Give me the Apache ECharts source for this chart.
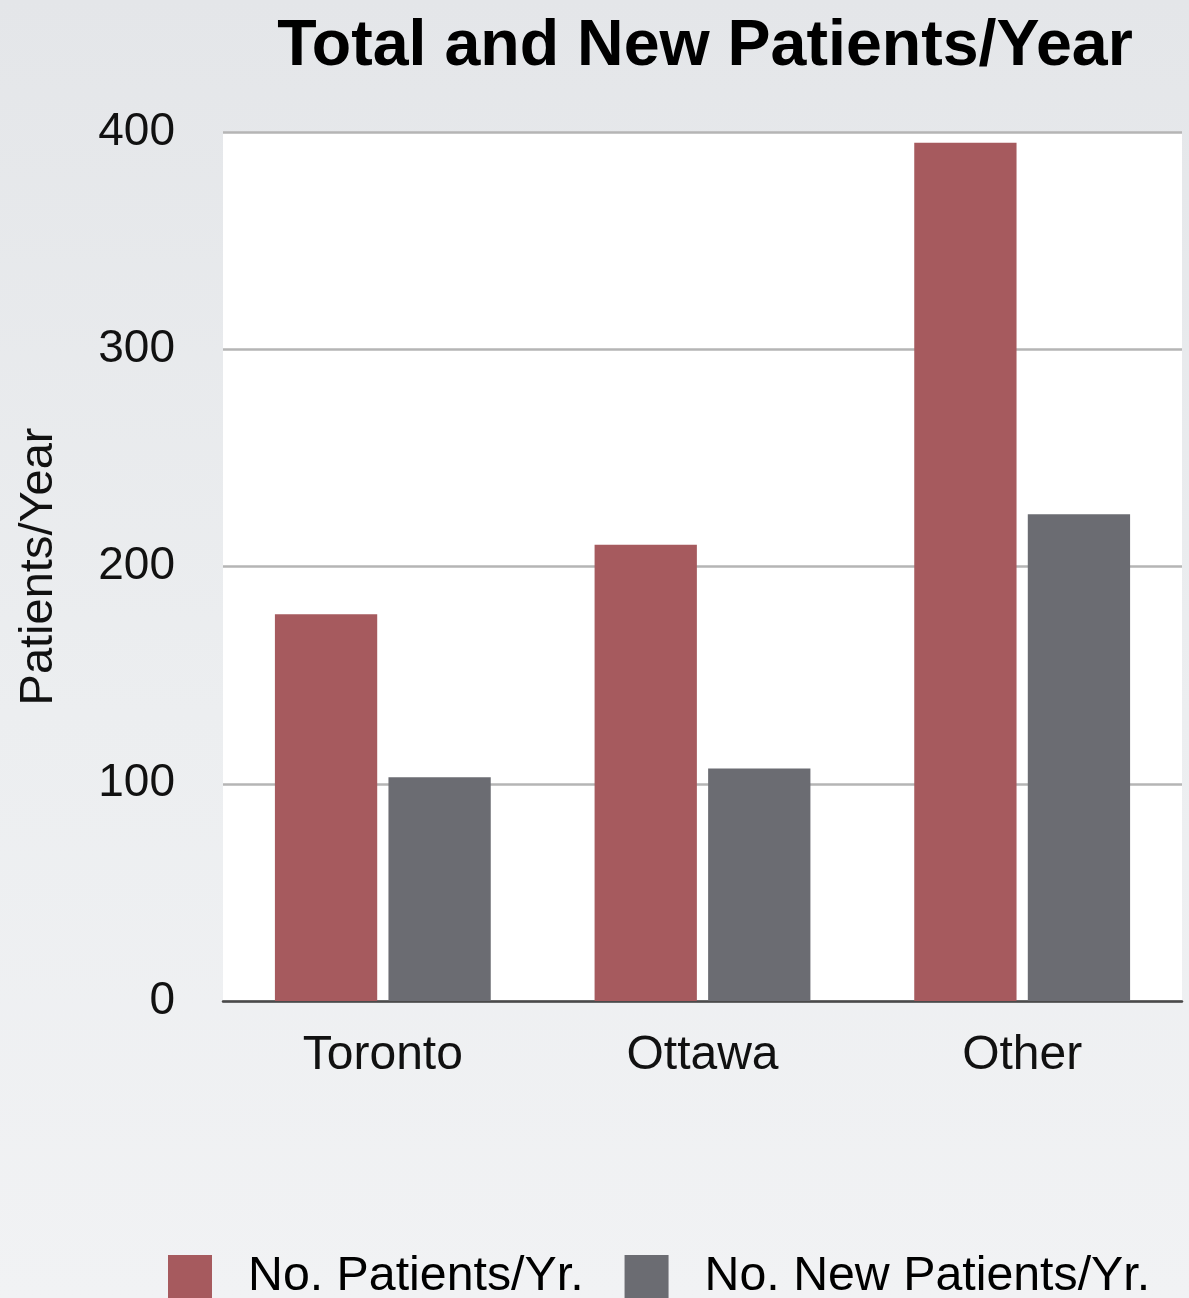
<!DOCTYPE html>
<html>
<head>
<meta charset="utf-8">
<script src="https://cdn.jsdelivr.net/npm/echarts@6/dist/echarts.min.js"></script>
<style>
  html, body { margin: 0; padding: 0; }
  body { background: linear-gradient(180deg, #e4e6e9 0%, #eceef0 55%, #f1f2f4 100%); }
  #chart { width: 1189px; height: 1298px; }
</style>
</head>
<body>
<div id="chart"></div>
<script>
// Patient counts per city
const cities = ['Toronto', 'Ottawa', 'Other'];
const totalPatients = [178, 210, 395];
const newPatients = [103, 107, 224];
const yTicks = [0, 100, 200, 300, 400];

const FONT = '"Liberation Sans", Arial, Helvetica, sans-serif';

const chart = echarts.init(document.getElementById('chart'), null, { renderer: 'canvas' });

chart.setOption({
  backgroundColor: 'transparent',
  animation: false,
  title: {
    text: 'Total and New Patients/Year',
    left: 700,
    top: 10,
    textAlign: 'center',
    textStyle: { fontFamily: FONT, fontSize: 64.5, fontWeight: 'bold', color: '#000' }
  },
  legend: {
    left: 163,
    top: 1248,
    itemWidth: 44,
    itemHeight: 44,
    itemGap: 41,
    icon: 'rect',
    textStyle: { fontFamily: FONT, fontSize: 48.3, color: '#000', padding: [0, 0, 0, 31] },
    data: ['No. Patients/Yr.', 'No. New Patients/Yr.']
  },
  grid: {
    left: 223,
    right: 7,
    top: 132,
    bottom: 297,
    show: true,
    backgroundColor: '#ffffff',
    borderWidth: 0
  },
  xAxis: {
    type: 'category',
    data: cities,
    axisLine: { show: true, lineStyle: { color: '#4a4a4a', width: 2.5 } },
    axisTick: { show: false },
    axisLabel: { fontFamily: FONT, fontSize: 48, color: '#111', margin: 31 }
  },
  yAxis: {
    type: 'value',
    min: yTicks[0],
    max: yTicks[yTicks.length - 1],
    interval: 100,
    name: 'Patients/Year',
    nameLocation: 'middle',
    nameGap: 160,
    nameRotate: 90,
    nameTextStyle: { fontFamily: FONT, fontSize: 47, color: '#111' },
    axisLine: { show: false },
    axisTick: { show: false },
    axisLabel: { fontFamily: FONT, fontSize: 46, color: '#111', margin: 48 },
    splitLine: { show: true, lineStyle: { color: '#b5b5b5', width: 2.5 } }
  },
  series: [
    {
      name: 'No. Patients/Yr.',
      type: 'bar',
      data: totalPatients,
      barWidth: '32%',
      barGap: '11%',
      itemStyle: { color: '#a65a5e' }
    },
    {
      name: 'No. New Patients/Yr.',
      type: 'bar',
      data: newPatients,
      barWidth: '32%',
      itemStyle: { color: '#6b6c72' }
    }
  ]
});
</script>
</body>
</html>
